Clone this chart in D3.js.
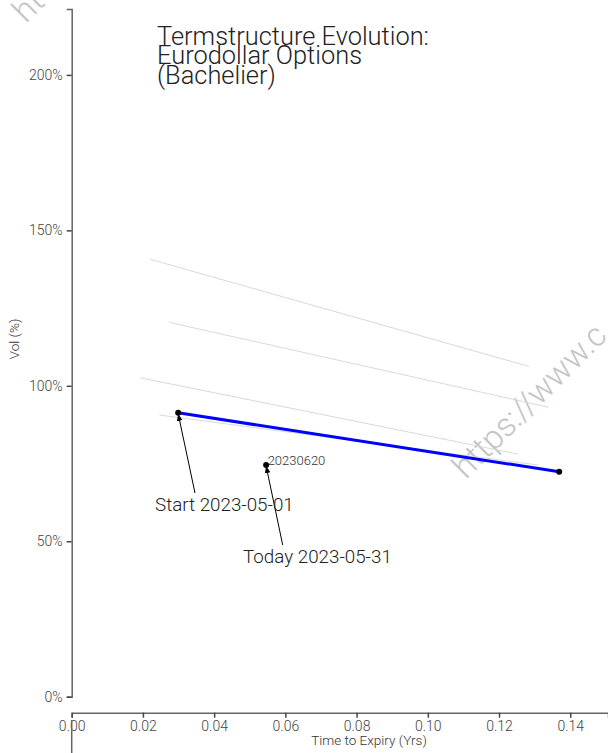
<!DOCTYPE html>
<html><head><meta charset="utf-8">
<script src="https://cdn.jsdelivr.net/npm/d3@7"></script>
<style>
body{margin:0;background:#fff;}
svg{display:block;font-family:Roboto,"Open Sans",sans-serif;}
</style></head>
<body><svg id="c" width="608" height="753"></svg>
<script>
// ---- data ----
const titleLines = ["Termstructure Evolution:", "Eurodollar Options", "(Bachelier)"];
const yTicks = [0, 0.5, 1.0, 1.5, 2.0];
const xTicks = [0, 0.02, 0.04, 0.06, 0.08, 0.10, 0.12, 0.14];
// historical term structures (grey)
const histT = [[0.0220, 0.1285], [0.0274, 0.1339], [0.0192, 0.1254], [0.0246, 0.1311]];
const histV = [[1.407, 1.062], [1.204, 0.931], [1.026, 0.780], [0.906, 0.745]];
// current term structure (blue)
const curT = [0.0299, 0.1369];
const curV = [0.913, 0.7235];
// expiry point
const expLabel = "20230620";
const expT = 0.0546, expV = 0.745;
const startLabel = "Start 2023-05-01";
const todayLabel = "Today 2023-05-31";

const svg = d3.select("#c");
const x = d3.scaleLinear().domain([0, 0.1506]).range([71.7, 608]);
const y = d3.scaleLinear().domain([0, 2.212]).range([696.7, 9]);

// watermark
const wm = svg.append("g").attr("fill", "#c4c4c4").attr("font-size", 33).attr("font-weight", 300);
wm.append("text").attr("transform", "translate(466,480) rotate(-45)").text("https://www.c");
wm.append("text").attr("transform", "translate(26,24) rotate(-45)").text("ht");

// axes
const yAxis = d3.axisLeft(y).tickValues(yTicks).tickFormat(d => Math.round(d * 100) + "%").tickSize(5).tickSizeOuter(5).tickPadding(4);
const gy = svg.append("g").attr("transform", "translate(71.7,0)").call(yAxis);
const xAxis = d3.axisBottom(x).tickValues(xTicks).tickFormat(d3.format(".2f")).tickSize(5).tickSizeOuter(5).tickPadding(3);
const gx = svg.append("g").attr("transform", "translate(0,712.7)").call(xAxis);
[gx, gy].forEach(g => {
  g.select(".domain").attr("stroke", "#666").attr("stroke-width", 1.5);
  g.selectAll(".tick line").attr("stroke", "#444").attr("stroke-width", 1.5);
  g.selectAll(".tick text").attr("fill", "#444").attr("font-size", 14).attr("font-weight", 300)
    .attr("font-family", "Roboto, sans-serif");
});
svg.append("line").attr("x1", x(0)).attr("x2", x(0)).attr("y1", 720).attr("y2", 753)
  .attr("stroke", "#666").attr("stroke-width", 1.5);

// axis titles
svg.append("text").attr("transform", "translate(19,339) rotate(-90)").attr("text-anchor", "middle")
  .attr("font-size", 13.5).attr("font-weight", 300).attr("fill", "#333").text("Vol (%)");
svg.append("text").attr("x", 369).attr("y", 745).attr("text-anchor", "middle")
  .attr("font-size", 13.5).attr("font-weight", 300).attr("fill", "#333").text("Time to Expiry (Yrs)");

// title
const tt = svg.append("text").attr("font-size", 25.4).attr("font-weight", 300).attr("fill", "#222");
titleLines.forEach((s, i) => tt.append("tspan").attr("x", 157).attr("y", 45 + i * 19.3).text(s));

// grey history lines
const line = d3.line().x(d => x(d[0])).y(d => y(d[1]));
histT.forEach((t, i) => {
  svg.append("path").datum(t.map((v, j) => [v, histV[i][j]])).attr("d", line)
    .attr("fill", "none").attr("stroke", "#d9d9d9").attr("stroke-width", 1);
});

// current line
const cur = curT.map((v, j) => [v, curV[j]]);
svg.append("path").datum(cur).attr("d", line).attr("fill", "none").attr("stroke", "#0000ff").attr("stroke-width", 3);
svg.selectAll(".cd").data(cur).enter().append("circle").attr("cx", d => x(d[0])).attr("cy", d => y(d[1])).attr("r", 3).attr("fill", "#000");

// expiry point
svg.append("circle").attr("cx", x(expT)).attr("cy", y(expV)).attr("r", 3).attr("fill", "#000");
svg.append("text").attr("x", x(expT) + 1.5).attr("y", y(expV) - 0.5).attr("font-size", 13).attr("font-weight", 300)
  .attr("fill", "#333").text(expLabel);

// arrows
const defs = svg.append("defs");
defs.append("marker").attr("id", "ah").attr("viewBox", "0 0 10 10").attr("refX", 10).attr("refY", 5)
  .attr("markerWidth", 7).attr("markerHeight", 7).attr("orient", "auto")
  .append("path").attr("d", "M0,1 L10,5 L0,9 Z").attr("fill", "#000");
function arrow(x1, y1, x2, y2) {
  svg.append("line").attr("x1", x1).attr("y1", y1).attr("x2", x2).attr("y2", y2)
    .attr("stroke", "#000").attr("stroke-width", 1).attr("marker-end", "url(#ah)");
}
arrow(195, 493, x(curT[0]), y(curV[0]) + 1);
arrow(282.7, 545, x(expT), y(expV) + 1);
svg.append("text").attr("x", 155).attr("y", 510.7).attr("font-size", 18.8).attr("font-weight", 300).attr("fill", "#222").text(startLabel);
svg.append("text").attr("x", 243).attr("y", 562.7).attr("font-size", 18.8).attr("font-weight", 300).attr("fill", "#222").text(todayLabel);
</script></body></html>
